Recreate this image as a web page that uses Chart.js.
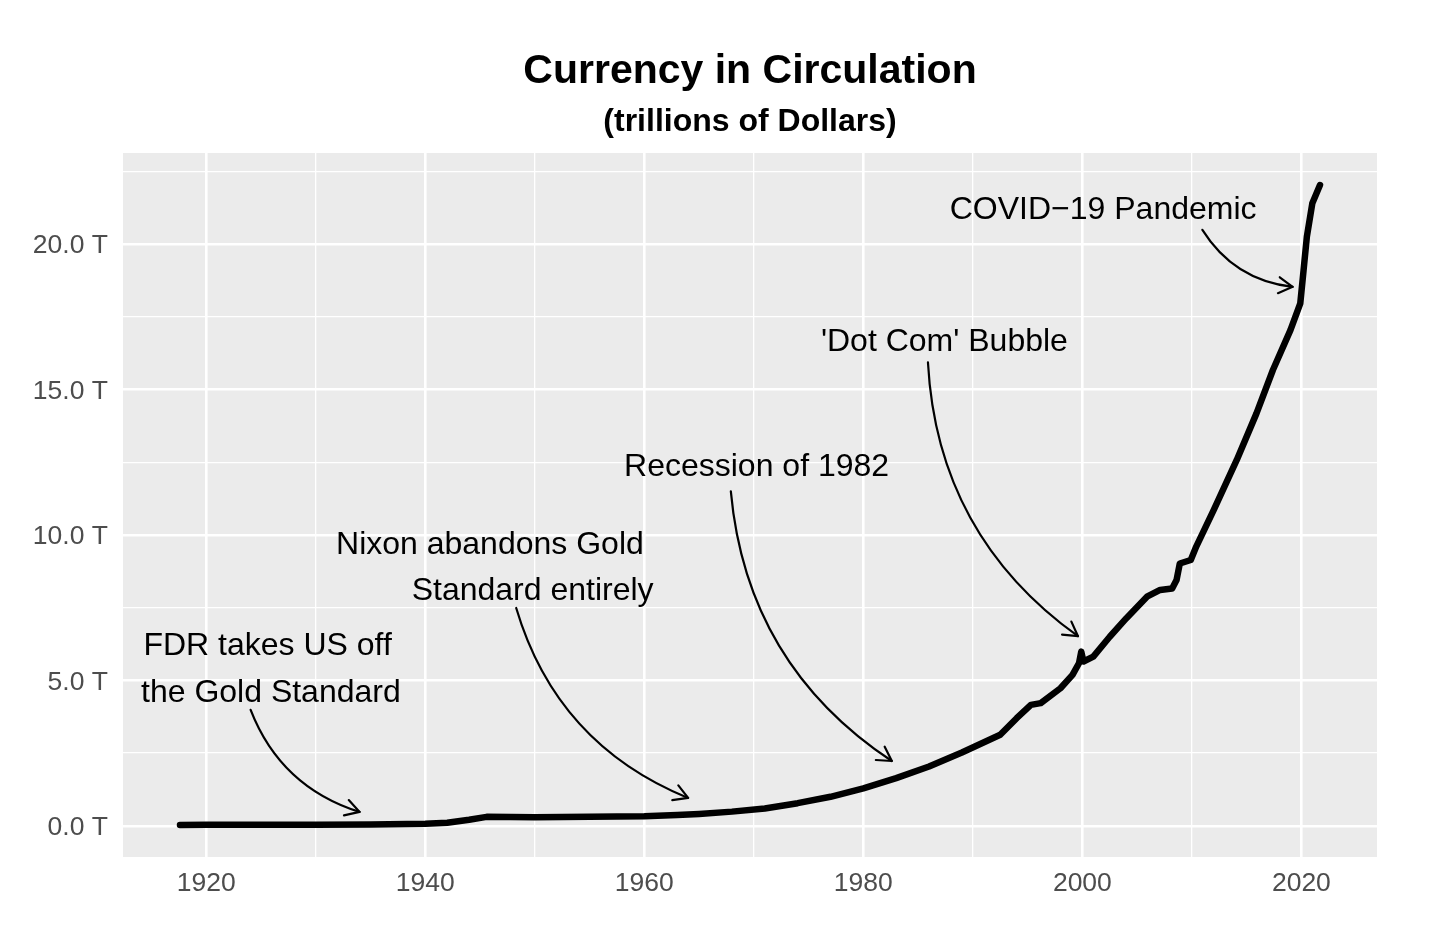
<!DOCTYPE html>
<html>
<head>
<meta charset="utf-8">
<title>Currency in Circulation</title>
<script src="https://cdn.jsdelivr.net/npm/chart.js@4.4.0/dist/chart.umd.min.js"></script>
<style>
  html, body { margin: 0; padding: 0; background: #ffffff; }
  canvas { display: block; }
</style>
</head>
<body>
<canvas id="currencyChart" width="1442" height="929"></canvas>
<script>
// chart text
var chartTitle = "Currency in Circulation";
var chartSubtitle = "(trillions of Dollars)";

// series: year, trillions of dollars
var years = [1917.6, 1920, 1925, 1930, 1935, 1940, 1942, 1944, 1945.6, 1950,
  1955, 1960, 1963, 1965, 1968, 1971, 1974, 1977, 1980, 1983,
  1986, 1989, 1992.5, 1994.0, 1995.3, 1996.2, 1998.0, 1999.1, 1999.7, 1999.9,
  2000.1, 2001.0, 2002.5, 2004.0, 2005.9, 2007.1, 2008.2, 2008.6, 2008.9, 2009.9,
  2010.4, 2012.0, 2014.1, 2015.9, 2017.4, 2019.0, 2019.9, 2020.2, 2020.5, 2021.0,
  2021.7];
var currency = [0.03, 0.04, 0.04, 0.04, 0.05, 0.07, 0.11, 0.21, 0.31, 0.30,
  0.31, 0.33, 0.37, 0.41, 0.49, 0.60, 0.78, 1.00, 1.29, 1.64,
  2.04, 2.52, 3.13, 3.70, 4.16, 4.22, 4.73, 5.19, 5.60, 5.99,
  5.65, 5.82, 6.50, 7.13, 7.88, 8.11, 8.16, 8.45, 9.02, 9.14,
  9.60, 10.86, 12.58, 14.18, 15.67, 17.04, 17.96, 19.10, 20.25, 21.40,
  22.03];

// axis ticks (every tick gets a grid line, only the labelled ones get text)
var xTicks = [1920, 1930, 1940, 1950, 1960, 1970, 1980, 1990, 2000, 2010, 2020];
var xLabelTicks = [1920, 1940, 1960, 1980, 2000, 2020];
var yTicks = [0, 2.5, 5, 7.5, 10, 12.5, 15, 17.5, 20, 22.5];
var yLabelTicks = [0, 5, 10, 15, 20];

// annotation text, one entry per line of text
var noteLines = ["FDR takes US off", "the Gold Standard", "Nixon abandons Gold", "Standard entirely",
  "Recession of 1982", "'Dot Com' Bubble", "COVID\u221219 Pandemic"];
var noteYears = [1925.6, 1925.9, 1945.9, 1949.8, 1970.25, 1987.4, 2001.9];
var noteValues = [6.26, 4.65, 9.75, 8.15, 12.43, 16.73, 21.24];

// curved arrows, from label to the line
var arrowFromYear = [1924.05, 1948.3, 1967.9, 1985.9, 2010.96];
var arrowFromValue = [3.99, 7.49, 11.5, 15.93, 20.49];
var arrowToYear = [1934.0, 1964.0, 1982.6, 1999.6, 2019.2];
var arrowToValue = [0.48, 0.96, 2.23, 6.52, 18.53];

var fontFamily = "'Liberation Sans', Arial, Helvetica, sans-serif";

// ggplot style 5% expansion of the data range
function expand(values) {
    var lo = Math.min.apply(null, values);
    var hi = Math.max.apply(null, values);
    var pad = (hi - lo) * 0.05;
    return [lo - pad, hi + pad];
}
var xRange = expand(years);
var yRange = expand(currency);

var points = [];
for (var i = 0; i < years.length; i++) {
    points.push({ x: years[i], y: currency[i] });
}

/* grey panel behind the grid */
var panelBackground = {
    id: 'panelBackground',
    beforeDraw: function (chart) {
        var ctx = chart.ctx, area = chart.chartArea;
        ctx.save();
        ctx.fillStyle = '#ffffff';
        ctx.fillRect(0, 0, chart.width, chart.height);
        ctx.fillStyle = '#ebebeb';
        ctx.fillRect(area.left, area.top, area.right - area.left, area.bottom - area.top);
        ctx.restore();
    }
};

/* title and subtitle centred over the panel */
var panelTitle = {
    id: 'panelTitle',
    afterDraw: function (chart) {
        var ctx = chart.ctx, area = chart.chartArea;
        var mid = (area.left + area.right) / 2;
        ctx.save();
        ctx.fillStyle = '#000000';
        ctx.textAlign = 'center';
        ctx.textBaseline = 'alphabetic';
        ctx.font = 'bold 41px ' + fontFamily;
        ctx.fillText(chartTitle, mid, 83);
        ctx.font = 'bold 32px ' + fontFamily;
        ctx.fillText(chartSubtitle, mid, 131);
        ctx.restore();
    }
};

/* text notes and curved arrows, placed in data units */
var annotations = {
    id: 'annotations',
    afterDatasetsDraw: function (chart) {
        var ctx = chart.ctx, xs = chart.scales.x, ys = chart.scales.y;
        ctx.save();
        ctx.fillStyle = '#000000';
        ctx.strokeStyle = '#000000';
        ctx.font = '32px ' + fontFamily;
        ctx.textAlign = 'center';
        ctx.textBaseline = 'alphabetic';
        for (var i = 0; i < noteLines.length; i++) {
            ctx.fillText(noteLines[i], xs.getPixelForValue(noteYears[i]), ys.getPixelForValue(noteValues[i]) + 32 * 0.358);
        }
        ctx.lineWidth = 2.2;
        ctx.lineCap = 'round';
        ctx.lineJoin = 'round';
        for (var j = 0; j < arrowFromYear.length; j++) {
            var x0 = xs.getPixelForValue(arrowFromYear[j]);
            var y0 = ys.getPixelForValue(arrowFromValue[j]);
            var x1 = xs.getPixelForValue(arrowToYear[j]);
            var y1 = ys.getPixelForValue(arrowToValue[j]);
            var dx = x1 - x0, dy = y1 - y0;
            var cx = (x0 + x1) / 2 - dy * 0.24;
            var cy = (y0 + y1) / 2 + dx * 0.24;
            ctx.beginPath();
            ctx.moveTo(x0, y0);
            ctx.quadraticCurveTo(cx, cy, x1, y1);
            ctx.stroke();
            var ang = Math.atan2(y1 - cy, x1 - cx);
            var head = 16;
            ctx.beginPath();
            ctx.moveTo(x1 - head * Math.cos(ang - Math.PI / 6), y1 - head * Math.sin(ang - Math.PI / 6));
            ctx.lineTo(x1, y1);
            ctx.lineTo(x1 - head * Math.cos(ang + Math.PI / 6), y1 - head * Math.sin(ang + Math.PI / 6));
            ctx.stroke();
        }
        ctx.restore();
    }
};

var ctxLine = document.getElementById('currencyChart');
var currencyChart = new Chart(ctxLine, {
    type: 'line',
    data: {
        datasets: [{
            label: 'Currency in Circulation',
            data: points,
            borderColor: '#000000',
            borderWidth: 6.5,
            borderJoinStyle: 'round',
            borderCapStyle: 'round',
            pointRadius: 0,
            tension: 0,
            fill: false
        }]
    },
    options: {
        responsive: false,
        animation: false,
        layout: { padding: { left: 0, right: 65, top: 153, bottom: 0 } },
        plugins: {
            legend: { display: false },
            title: { display: false },
            tooltip: { enabled: false }
        },
        scales: {
            x: {
                type: 'linear',
                min: xRange[0],
                max: xRange[1],
                afterBuildTicks: function (axis) {
                    axis.ticks = xTicks.map(function (v) { return { value: v }; });
                },
                afterFit: function (axis) { axis.height = 72; },
                grid: {
                    color: '#ffffff',
                    lineWidth: function (c) {
                        return xLabelTicks.indexOf(c.tick.value) >= 0 ? 2.6 : 1.3;
                    },
                    drawTicks: false
                },
                border: { display: false },
                ticks: {
                    autoSkip: false,
                    maxRotation: 0,
                    padding: 11,
                    color: '#4d4d4d',
                    font: { family: fontFamily, size: 26.5 },
                    callback: function (value) {
                        return xLabelTicks.indexOf(value) >= 0 ? String(value) : '';
                    }
                }
            },
            y: {
                type: 'linear',
                min: yRange[0],
                max: yRange[1],
                afterBuildTicks: function (axis) {
                    axis.ticks = yTicks.map(function (v) { return { value: v }; });
                },
                afterFit: function (axis) { axis.width = 123; },
                grid: {
                    color: '#ffffff',
                    lineWidth: function (c) {
                        return yLabelTicks.indexOf(c.tick.value) >= 0 ? 2.6 : 1.3;
                    },
                    drawTicks: false
                },
                border: { display: false },
                ticks: {
                    autoSkip: false,
                    padding: 15,
                    labelOffset: 2,
                    color: '#4d4d4d',
                    font: { family: fontFamily, size: 26.5 },
                    callback: function (value) {
                        return yLabelTicks.indexOf(value) >= 0 ? value.toFixed(1) + ' T' : '';
                    }
                }
            }
        }
    },
    plugins: [panelBackground, panelTitle, annotations]
});
</script>
</body>
</html>
